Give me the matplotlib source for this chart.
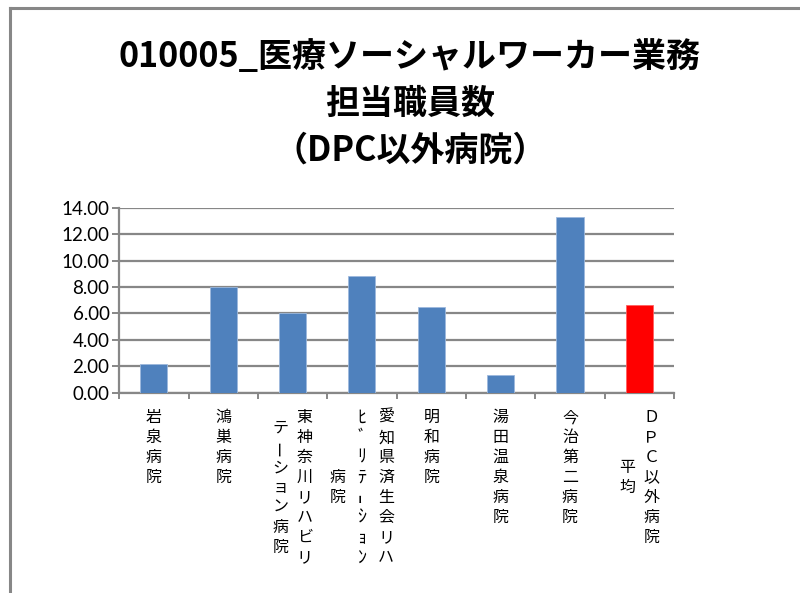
import numpy as np
import matplotlib
matplotlib.use("Agg")
from matplotlib import pyplot as plt
from matplotlib.transforms import offset_copy
from matplotlib.lines import Line2D

plt.rcParams['font.family'] = ['Noto Sans CJK JP', 'DejaVu Sans']

# data
hospitals = ["岩泉病院", "鴻巣病院", "東神奈川リハビリテーション病院",
             "愛知県済生会リハﾋﾞﾘﾃｰｼｮﾝ病院", "明和病院", "湯田温泉病院",
             "今治第二病院", "ＤＰＣ以外病院平均"]
staff = [2.15, 8.0, 6.0, 8.85, 6.5, 1.35, 13.3, 6.62]
# how each label wraps into vertical columns (right column first)
label_columns = [
    ["岩泉病院"],
    ["鴻巣病院"],
    ["東神奈川リハビリ", "テーション病院"],
    ["愛知県済生会リハ", "ﾋﾞﾘﾃｰｼｮﾝ", "病院"],
    ["明和病院"],
    ["湯田温泉病院"],
    ["今治第二病院"],
    ["ＤＰＣ以外病院", "平均"],
]
yticks = [0, 2, 4, 6, 8, 10, 12, 14]
title_lines = ["010005_医療ソーシャルワーカー業務", "担当職員数", "（DPC以外病院）"]

BLUE = "#4F81BD"
RED = "#FF0000"
GRAY = "#878787"

fig = plt.figure(figsize=(8, 5.93), dpi=100)
ax = fig.add_axes([0.1491, 0.3378, 0.6934, 0.3119])

x = np.arange(len(staff))
ax.bar(x[:-1], staff[:-1], width=0.39, color=BLUE, edgecolor="#9DB9DD", linewidth=0.6, zorder=3)
ax.bar(x[-1], staff[-1], width=0.39, color=RED, edgecolor="#FF6060", linewidth=0.6, zorder=3)

ax.set_xlim(-0.5, len(staff) - 0.5)
ax.set_ylim(0, 14)
ax.set_yticks(yticks)
ax.set_yticklabels(["%.2f" % v for v in yticks], family="Lato", fontsize=13.5)
ax.set_xticks(np.arange(-0.5, len(staff), 1))
ax.set_xticklabels([])
ax.yaxis.grid(True, color=GRAY, linewidth=1.6, zorder=0)
ax.xaxis.grid(False)
for s in ["top", "right"]:
    ax.spines[s].set_visible(False)
for s in ["left", "bottom"]:
    ax.spines[s].set_color(GRAY)
    ax.spines[s].set_linewidth(1.6)
ax.tick_params(axis="y", length=5, width=1.4, color=GRAY, pad=2)
ax.tick_params(axis="x", length=4, width=1.4, color=GRAY)

# vertical (tategaki) category labels
pitch = 20.0
gap = 15.0
colsp = 24.0
base = ax.get_xaxis_transform()
for i, cols in enumerate(label_columns):
    m = max(len(c) for c in cols)
    nc = len(cols)
    for j, col in enumerate(cols):
        dx = ((nc - 1) / 2.0 - j) * colsp
        for k, ch in enumerate(col):
            dy = -(gap + (k + 0.5 + (m - len(col)) / 2.0) * pitch)
            rot = 90 if ch in "ーｰ" else 0
            fs = 13 if ch in "ﾋﾞﾘﾃｰｼｮﾝ" else 11.5
            tr = offset_copy(base, fig=fig, x=dx, y=dy, units="dots")
            ax.text(i, 0, ch, transform=tr, ha="center", va="center",
                    fontsize=fs, rotation=rot, color="black")

title_y = [1 - 57 / 593, 1 - 103 / 593, 1 - 150 / 593]
for line, ty in zip(title_lines, title_y):
    fig.text(0.5125, ty, line, ha="center", va="center", fontsize=24.5,
             fontweight="bold")

# outer chart frame (top and left edges visible)
fig.add_artist(Line2D([10 / 800, 10 / 800], [0, 1 - 8 / 593], color=GRAY, linewidth=2.2))
fig.add_artist(Line2D([10 / 800, 1], [1 - 8 / 593, 1 - 8 / 593], color=GRAY, linewidth=2.2))

fig.savefig("out.png", dpi=100, facecolor="white")
